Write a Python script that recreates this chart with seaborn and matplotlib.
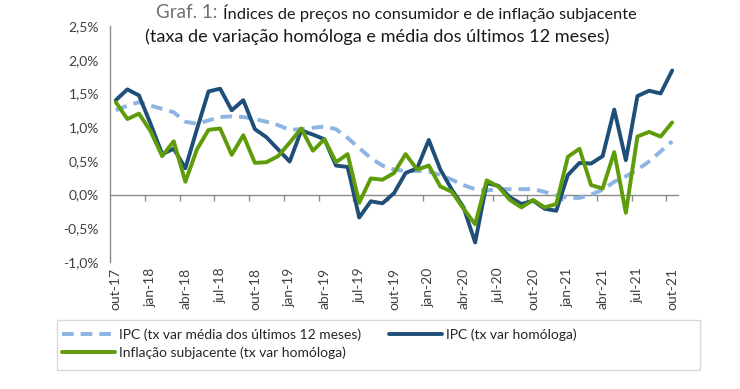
import pandas as pd
import matplotlib
matplotlib.use("Agg")
import matplotlib.pyplot as plt
from matplotlib.patches import Rectangle
import seaborn as sns

# -------------------------
# Data (out-17 .. out-21, monthly)
# -------------------------
MONTHS_PT = ["jan", "fev", "mar", "abr", "mai", "jun",
             "jul", "ago", "set", "out", "nov", "dez"]

months = []
for k in range(49):
    m = (9 + k) % 12
    y = 17 + (9 + k) // 12
    months.append(f"{MONTHS_PT[m]}-{y}")

ipc_media_12m = [1.25, 1.32, 1.37, 1.32, 1.27, 1.22, 1.08, 1.05, 1.10, 1.15,
                 1.16, 1.15, 1.12, 1.08, 1.03, 0.96, 0.97, 0.99, 1.01, 0.97,
                 0.84, 0.69, 0.54, 0.43, 0.37, 0.35, 0.35, 0.34, 0.29, 0.22,
                 0.14, 0.08, 0.06, 0.08, 0.08, 0.08, 0.08, 0.04, -0.01, -0.05,
                 -0.05, 0.00, 0.07, 0.19, 0.27, 0.37, 0.49, 0.64, 0.79]

ipc_homologa = [1.40, 1.56, 1.47, 1.05, 0.60, 0.68, 0.39, 0.97, 1.53, 1.57,
                1.25, 1.40, 0.97, 0.85, 0.67, 0.49, 0.95, 0.89, 0.82, 0.43,
                0.41, -0.34, -0.10, -0.13, 0.02, 0.32, 0.39, 0.81, 0.37, 0.07,
                -0.19, -0.71, 0.17, 0.13, -0.04, -0.14, -0.09, -0.21, -0.24, 0.29,
                0.47, 0.46, 0.57, 1.26, 0.51, 1.46, 1.54, 1.50, 1.84]

subjacente = [1.37, 1.12, 1.20, 0.94, 0.57, 0.79, 0.19, 0.67, 0.96, 0.98,
              0.59, 0.88, 0.47, 0.48, 0.57, 0.77, 0.98, 0.65, 0.82, 0.48,
              0.60, -0.12, 0.24, 0.22, 0.32, 0.60, 0.37, 0.43, 0.12, 0.04,
              -0.21, -0.44, 0.21, 0.12, -0.08, -0.19, -0.08, -0.19, -0.14, 0.56,
              0.68, 0.14, 0.09, 0.63, -0.27, 0.86, 0.93, 0.86, 1.07]

labels = {
    "media": "IPC (tx var média dos últimos 12 meses)",
    "homologa": "IPC (tx var homóloga)",
    "subj": "Inflação subjacente (tx var homóloga)",
}

df = pd.DataFrame({
    "pos": range(len(months)),
    "mes": months,
    "media": ipc_media_12m,
    "homologa": ipc_homologa,
    "subj": subjacente,
})

# -------------------------
# Style
# -------------------------
sns.set_style("white")
plt.rcParams["font.family"] = ["Lato", "DejaVu Sans"]

C_LIGHT = "#8DB4E2"
C_DARK = "#1F4E79"
C_GREEN = "#5E9C0A"
AXIS_GREY = "#8C8C8C"

fig = plt.figure(figsize=(7.4, 3.89), dpi=100)
ax = fig.add_axes([110 / 740, 1 - 262 / 389, 568 / 740, 236 / 389])

sns.lineplot(data=df, x="pos", y="media", ax=ax, color=C_LIGHT, lw=2.8,
             label=labels["media"])
ax.lines[-1].set_dashes([3, 1.8])
sns.lineplot(data=df, x="pos", y="homologa", ax=ax, color=C_DARK, lw=2.8,
             label=labels["homologa"])
sns.lineplot(data=df, x="pos", y="subj", ax=ax, color=C_GREEN, lw=2.8,
             label=labels["subj"])

ymin, ymax = -1.0, 2.5
ax.set_ylim(ymin, ymax)
ax.set_xlim(-0.5, len(months) - 0.5)

ax.set_yticks([-1.0, -0.5, 0.0, 0.5, 1.0, 1.5, 2.0, 2.5])
ax.set_yticklabels([f"{v:.1f}%".replace(".", ",") for v in ax.get_yticks()],
                   fontsize=10, color="#404040")
ax.tick_params(axis="y", direction="out", length=4, color=AXIS_GREY, pad=4)

label_pos = list(range(0, len(months), 3))
ax.set_xticks(label_pos)
ax.set_xticklabels([months[p] for p in label_pos], rotation=90,
                   fontsize=10, color="#404040")
ax.tick_params(axis="x", length=0, pad=4)
ax.set_xlabel("")
ax.set_ylabel("")

for side in ["top", "right", "bottom"]:
    ax.spines[side].set_visible(False)
ax.spines["left"].set_color(AXIS_GREY)
ax.spines["left"].set_linewidth(1.0)

# category axis drawn at zero, with marks between categories
zero_ax = ax.secondary_xaxis((0 - ymin) / (ymax - ymin))
zero_ax.set_xticks([p - 0.5 for p in range(3, len(months), 3)])
zero_ax.set_xticklabels([])
zero_ax.tick_params(direction="out", length=4, color=AXIS_GREY, width=1.0)
zero_ax.spines["bottom"].set_color(AXIS_GREY)
zero_ax.spines["bottom"].set_linewidth(1.0)

# legend (frame drawn separately so it spans the full width)
fig.patches.append(Rectangle((57 / 740, 19 / 389), 643 / 740, 50 / 389,
                             transform=fig.transFigure, facecolor="white",
                             edgecolor="#D9D9D9", linewidth=1.0, zorder=0))
handles, texts = ax.get_legend_handles_labels()
ax.get_legend().remove()
order = [0, 2, 1]
fig.legend([handles[i] for i in order], [texts[i] for i in order],
           loc="upper left", bbox_to_anchor=(62 / 740, 1 - 328 / 389),
           ncol=2, frameon=False, fontsize=10, handlelength=3.8,
           handletextpad=0.3, borderaxespad=0, borderpad=0,
           labelspacing=0.45, columnspacing=2.0, labelcolor="#262626")

# title
fig.text(218 / 740, 1 - 13 / 389, "Graf. 1:", ha="right", va="center",
         fontsize=13.5, color="#6F6F6F")
fig.text(223 / 740, 1 - 13 / 389,
         "Índices de preços no consumidor e de inflação subjacente",
         ha="left", va="center", fontsize=11.8, color="#1A1A1A")
fig.text(377.5 / 740, 1 - 37 / 389,
         "(taxa de variação homóloga e média dos últimos 12 meses)",
         ha="center", va="center", fontsize=13.1, color="#1A1A1A")

fig.savefig("out.png", dpi=100)
plt.close(fig)
